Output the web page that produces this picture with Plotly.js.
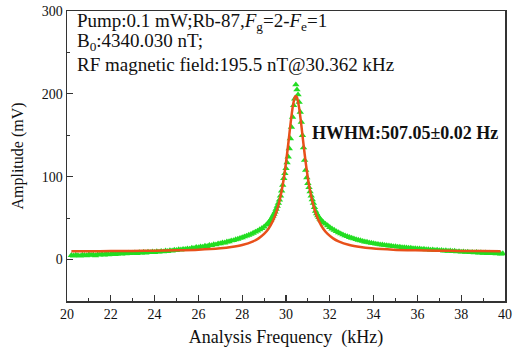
<!DOCTYPE html>
<html>
<head>
<meta charset="utf-8">
<script src="https://cdn.plot.ly/plotly-3.0.1.min.js"></script>
<style>html,body{margin:0;padding:0;background:#fff;}#chart{width:524px;height:352px;}</style>
</head>
<body>
<div id="chart"></div>
<script>
// Measured signal (green triangles)
const freqData = [
20.2,20.3,20.4,20.5,20.6,20.7,20.8,20.9,21.0,21.1,21.2,21.3,21.4,21.5,21.6,21.7,21.8,21.9,
22.0,22.1,22.2,22.3,22.4,22.5,22.6,22.7,22.8,22.9,23.0,23.1,23.2,23.3,23.4,23.5,23.6,23.7,23.8,23.9,
24.0,24.1,24.2,24.3,24.4,24.5,24.6,24.7,24.8,24.9,25.0,25.1,25.2,25.3,25.4,25.5,25.6,25.7,25.8,25.9,
26.0,26.1,26.2,26.3,26.4,26.5,26.6,26.7,26.8,26.9,27.0,27.1,27.2,27.3,27.4,27.5,27.6,27.7,27.8,27.9,
28.0,28.1,28.2,28.3,28.4,28.5,28.6,28.7,28.8,28.9,29.0,29.1,
29.15,29.2,29.25,29.3,29.35,29.4,29.45,29.5,29.55,29.6,29.65,29.7,29.75,29.8,29.85,29.9,29.95,
30.0,30.05,30.1,30.15,30.2,30.25,30.3,30.35,30.4,30.45,30.5,30.55,30.6,30.65,30.7,30.75,30.8,30.85,30.9,30.95,
31.0,31.05,31.1,31.15,31.2,31.25,31.3,31.35,31.4,31.45,31.5,31.55,31.6,31.65,31.7,
31.8,31.9,32.0,32.1,32.2,32.3,32.4,32.5,32.6,32.7,32.8,32.9,33.0,33.1,33.2,33.3,33.4,33.5,33.6,33.7,33.8,33.9,
34.0,34.1,34.2,34.3,34.4,34.5,34.6,34.7,34.8,34.9,35.0,35.1,35.2,35.3,35.4,35.5,35.6,35.7,35.8,35.9,
36.0,36.1,36.2,36.3,36.4,36.5,36.6,36.7,36.8,36.9,37.0,37.1,37.2,37.3,37.4,37.5,37.6,37.7,37.8,37.9,
38.0,38.1,38.2,38.3,38.4,38.5,38.6,38.7,38.8,38.9,39.0,39.1,39.2,39.3,39.4,39.5,39.6,39.7,39.8,39.9
];
const ampData = [
5.2,4.6,5.5,5.0,4.4,5.6,5.3,4.8,6.0,5.4,5.9,4.9,6.2,5.7,6.4,5.8,6.9,6.1,
6.7,7.2,6.4,7.0,7.5,6.8,7.6,7.1,8.0,7.4,7.9,8.3,7.6,8.5,8.0,8.9,8.2,9.1,8.6,9.4,
8.8,9.6,9.2,10.1,9.5,10.6,10.0,11.0,10.6,11.7,11.2,12.3,11.8,12.6,12.4,13.2,12.9,14.0,13.6,14.8,
14.5,15.6,15.2,16.4,16.0,17.3,17.0,18.2,18.0,19.2,19.3,20.4,20.3,21.5,21.7,22.8,23.1,24.2,24.8,25.8,
26.6,27.6,28.5,29.6,30.7,32.0,33.3,34.6,36.2,37.8,39.6,41.8,
43.0,44.5,46.0,48.0,50.0,52.5,55.0,57.5,61.0,64.5,68.0,72.0,77.0,83.0,90.0,98.0,104.0,
110.0,117.0,124.0,134.0,146.0,160.0,172.0,186.0,194.0,211.0,205.0,199.0,190.0,178.0,166.0,150.0,135.0,120.0,108.0,99.0,
92.0,87.0,82.0,77.0,72.5,68.0,63.0,58.5,55.5,53.0,51.0,49.0,47.5,46.0,45.0,
43.0,41.0,39.0,37.2,35.6,34.0,32.6,31.2,30.0,28.9,27.9,26.8,26.0,25.2,24.3,23.6,22.9,22.2,21.5,21.1,20.4,19.9,
19.5,18.8,18.6,18.0,17.8,17.4,17.0,16.6,16.4,15.9,15.8,15.2,15.3,14.6,14.7,14.3,13.9,14.0,13.4,13.5,
13.0,13.1,12.5,12.7,12.1,12.3,11.7,12.0,11.3,11.6,11.0,11.2,10.6,10.9,10.3,10.5,9.9,10.2,9.5,9.8,
9.2,9.5,8.9,9.2,8.6,8.9,8.3,8.7,8.1,8.4,7.9,8.2,7.6,8.0,7.4,7.7,7.2,7.5,6.9,7.2
];
// Lorentzian fit (red line)
const freqFit = [20.2,21,22,23,24,25,26,27,27.5,28,28.5,28.75,29,29.2,29.4,29.6,29.8,29.9,30.0,30.1,30.2,30.3,30.4,30.45,30.5,30.6,30.7,30.8,30.9,31.0,31.1,31.3,31.5,31.7,31.9,32.15,32.4,32.9,33.4,33.9,34.9,35.9,36.9,37.9,38.9,39.8];
const ampFit  = [10.0,10.1,10.2,10.4,10.7,11.2,12.0,13.7,15.2,17.6,22.0,25.6,30.9,37.2,46.5,60.7,82.9,98.2,117.0,138.9,162.2,183.1,195.8,197.5,195.8,183.1,162.2,138.9,117.0,98.2,82.9,60.7,46.5,37.2,30.9,25.6,22.0,17.6,15.2,13.7,12.0,11.2,10.7,10.4,10.2,10.1];

const xTicks = [20,22,24,26,28,30,32,34,36,38,40];
const yTicks = [0,100,200,300];

const serif = "Liberation Serif, Times New Roman, serif";

const traces = [
  {x: freqData, y: ampData, type: 'scatter', mode: 'markers',
   marker: {symbol: 'triangle-up', size: 6.5, color: '#22dd22', line: {width: 0}}, hoverinfo: 'skip'},
  {x: freqFit, y: ampFit, type: 'scatter', mode: 'lines', line: {color: '#e8501a', width: 2.5, shape: 'spline', smoothing: 0.6}, hoverinfo: 'skip'}
];

const axisCommon = {
  showgrid: false, zeroline: false, showline: true, linecolor: '#333', linewidth: 1.5,
  mirror: true, ticks: 'inside', tickcolor: '#333', tickwidth: 1.2, ticklen: 6,
  tickfont: {family: serif, size: 14, color: '#111'}
};

const layout = {
  width: 524, height: 352,
  margin: {l: 67, r: 19, t: 11, b: 51},
  paper_bgcolor: '#fff', plot_bgcolor: '#fff',
  showlegend: false,
  xaxis: Object.assign({}, axisCommon, {
    range: [20, 40], tickvals: xTicks, ticktext: xTicks.map(String),
    minor: {dtick: 1, tick0: 21, ticks: 'inside', ticklen: 3, tickcolor: '#333', tickwidth: 1},
    title: {text: 'Analysis Frequency  (kHz)', font: {family: serif, size: 18, color: '#111'}, standoff: 9}
  }),
  yaxis: Object.assign({}, axisCommon, {
    range: [-50, 300], tickvals: yTicks, ticktext: yTicks.map(String),
    minor: {dtick: 50, tick0: 50, ticks: 'inside', ticklen: 3, tickcolor: '#333', tickwidth: 1},
    title: {text: 'Amplitude (mV)', font: {family: serif, size: 16, color: '#111'}, standoff: 14}
  }),
  annotations: [
    {x: 20.37, y: 287, xref: 'x', yref: 'y', xanchor: 'left', yanchor: 'middle', showarrow: false,
     text: 'Pump:0.1 mW;Rb-87,<i>F</i><sub>g</sub>=2-<i>F</i><sub>e</sub>=1', font: {family: serif, size: 19, color: '#111'}},
    {x: 20.37, y: 263, xref: 'x', yref: 'y', xanchor: 'left', yanchor: 'middle', showarrow: false,
     text: 'B<sub>0</sub>:4340.030 nT;', font: {family: serif, size: 19, color: '#111'}},
    {x: 20.37, y: 236, xref: 'x', yref: 'y', xanchor: 'left', yanchor: 'middle', showarrow: false,
     text: 'RF magnetic field:195.5 nT@30.362 kHz', font: {family: serif, size: 19, color: '#111'}},
    {x: 31.1, y: 152.4, xref: 'x', yref: 'y', xanchor: 'left', yanchor: 'middle', showarrow: false,
     text: '<b>HWHM:507.05±0.02 Hz</b>', font: {family: serif, size: 18, color: '#111'}}
  ]
};

Plotly.newPlot('chart', traces, layout, {staticPlot: true, displayModeBar: false});
</script>
</body>
</html>
